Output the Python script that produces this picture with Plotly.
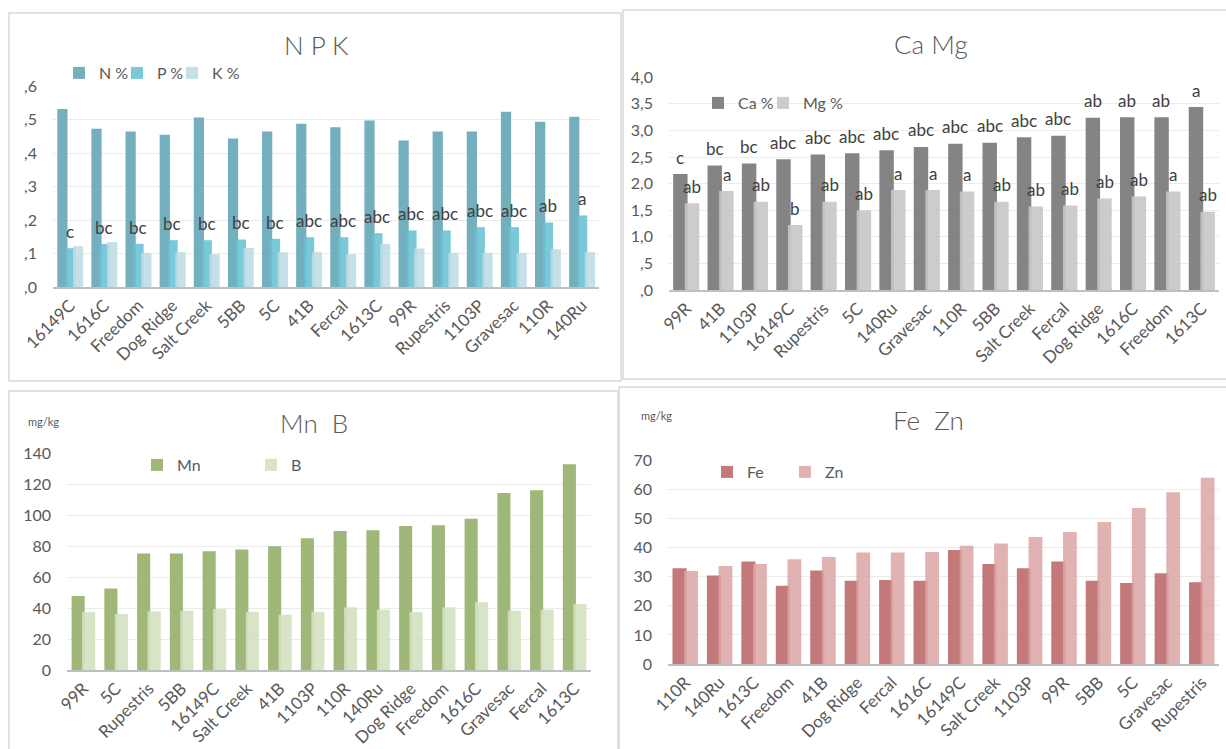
import plotly.graph_objects as go

W, H = 1226, 749

# ---------------- data ----------------
npk_cats = ["16149C", "1616C", "Freedom", "Dog Ridge", "Salt Creek", "5BB", "5C", "41B",
            "Fercal", "1613C", "99R", "Rupestris", "1103P", "Gravesac", "110R", "140Ru"]
n_vals = [0.532, 0.473, 0.465, 0.455, 0.507, 0.444, 0.465, 0.488,
          0.478, 0.498, 0.438, 0.465, 0.465, 0.524, 0.494, 0.509]
p_vals = [0.116, 0.129, 0.129, 0.140, 0.140, 0.142, 0.144, 0.149,
          0.149, 0.161, 0.169, 0.169, 0.179, 0.179, 0.193, 0.214]
k_vals = [0.122, 0.134, 0.102, 0.104, 0.098, 0.117, 0.104, 0.104,
          0.098, 0.129, 0.115, 0.102, 0.102, 0.102, 0.113, 0.104]
p_letters = ["c", "bc", "bc", "bc", "bc", "bc", "bc", "abc",
             "abc", "abc", "abc", "abc", "abc", "abc", "ab", "a"]
npk_tickvals = [0, 0.1, 0.2, 0.3, 0.4, 0.5, 0.6]
npk_ticktext = [",0", ",1", ",2", ",3", ",4", ",5", ",6"]

camg_cats = ["99R", "41B", "1103P", "16149C", "Rupestris", "5C", "140Ru", "Gravesac",
             "110R", "5BB", "Salt Creek", "Fercal", "Dog Ridge", "1616C", "Freedom", "1613C"]
ca_vals = [2.18, 2.34, 2.38, 2.46, 2.55, 2.57, 2.63, 2.69,
           2.75, 2.77, 2.87, 2.90, 3.24, 3.25, 3.25, 3.44]
mg_vals = [1.63, 1.86, 1.66, 1.22, 1.66, 1.50, 1.88, 1.88,
           1.85, 1.66, 1.57, 1.59, 1.72, 1.76, 1.85, 1.47]
ca_letters = ["c", "bc", "bc", "abc", "abc", "abc", "abc", "abc",
              "abc", "abc", "abc", "abc", "ab", "ab", "ab", "a"]
mg_letters = ["ab", "a", "ab", "b", "ab", "ab", "a", "a",
              "a", "ab", "ab", "ab", "ab", "ab", "a", "ab"]
camg_tickvals = [0, 0.5, 1.0, 1.5, 2.0, 2.5, 3.0, 3.5, 4.0]
camg_ticktext = [",0", ",5", "1,0", "1,5", "2,0", "2,5", "3,0", "3,5", "4,0"]

mnb_cats = ["99R", "5C", "Rupestris", "5BB", "16149C", "Salt Creek", "41B", "1103P",
            "110R", "140Ru", "Dog Ridge", "Freedom", "1616C", "Gravesac", "Fercal", "1613C"]
mn_vals = [47.8, 52.6, 75.2, 75.2, 76.7, 77.8, 79.9, 85.1,
           89.8, 90.3, 93.0, 93.5, 97.8, 114.4, 116.1, 132.9]
b_vals = [37.5, 36.2, 37.9, 38.3, 39.4, 37.5, 35.8, 37.5,
          40.5, 39.0, 37.5, 40.5, 43.7, 38.3, 39.0, 42.6]
mnb_tickvals = [0, 20, 40, 60, 80, 100, 120, 140]

fezn_cats = ["110R", "140Ru", "1613C", "Freedom", "41B", "Dog Ridge", "Fercal", "1616C",
             "16149C", "Salt Creek", "1103P", "99R", "5BB", "5C", "Gravesac", "Rupestris"]
fe_vals = [32.9, 30.4, 35.2, 26.9, 32.1, 28.6, 28.9, 28.6,
           39.2, 34.4, 32.9, 35.2, 28.6, 27.8, 31.2, 28.1]
zn_vals = [32.0, 33.7, 34.4, 36.0, 36.8, 38.3, 38.3, 38.5,
           40.6, 41.4, 43.6, 45.4, 48.8, 53.6, 59.0, 64.0]
fezn_tickvals = [0, 10, 20, 30, 40, 50, 60, 70]

# ---------------- styling ----------------
FONT = "Lato, 'Open Sans', sans-serif"
TXT = "#595959"
GRID = "#ECECEC"
AXLINE = "#BFBFBF"


def fx(px):
    return px / W


def fy(py):
    return 1 - py / H


fig = go.Figure()
legends = {}
leg_count = [0]


def add_bar(cats, vals, name, color, xa, ya, offset, width, leg_px):
    leg_count[0] += 1
    key = "legend" if leg_count[0] == 1 else "legend%d" % leg_count[0]
    legends[key] = dict(orientation="h", x=fx(leg_px[0] - 21), y=fy(leg_px[1]),
                        xanchor="left", yanchor="middle", bgcolor="rgba(0,0,0,0)",
                        borderwidth=0, font=dict(family=FONT, size=16, color=TXT),
                        itemclick=False, itemdoubleclick=False)
    fig.add_trace(go.Bar(
        x=cats, y=vals, name=name, marker=dict(color=color, line=dict(width=0)),
        offset=offset, width=width, xaxis=xa, yaxis=ya, legend=key,
        hoverinfo="x+y+name"))


# NPK
add_bar(npk_cats, n_vals, "N %", "rgba(104,168,184,0.92)", "x", "y", -0.375, 0.30, (80, 73))
add_bar(npk_cats, p_vals, "P %", "rgba(105,192,212,0.88)", "x", "y", -0.145, 0.30, (138, 73))
add_bar(npk_cats, k_vals, "K %", "rgba(190,220,229,0.88)", "x", "y", 0.085, 0.30, (193, 73))
# Ca Mg
add_bar(camg_cats, ca_vals, "Ca %", "rgba(125,125,125,0.95)", "x2", "y2", -0.38, 0.42, (719, 103))
add_bar(camg_cats, mg_vals, "Mg %", "rgba(198,198,198,0.9)", "x2", "y2", -0.04, 0.42, (784, 103))
# Mn B
add_bar(mnb_cats, mn_vals, "Mn", "rgba(154,179,114,0.95)", "x3", "y3", -0.36, 0.40, (158, 465))
add_bar(mnb_cats, b_vals, "B", "rgba(212,225,192,0.9)", "x3", "y3", -0.04, 0.40, (272, 465))
# Fe Zn
add_bar(fezn_cats, fe_vals, "Fe", "rgba(190,110,110,0.92)", "x4", "y4", -0.37, 0.41, (728, 472))
add_bar(fezn_cats, zn_vals, "Zn", "rgba(220,164,164,0.85)", "x4", "y4", -0.03, 0.40, (806, 472))

annotations = []
LETTER_FONT = dict(family=FONT, size=17, color="#404040")
# letters NPK (over P bars)
for c, v, t in zip(npk_cats, p_vals, p_letters):
    annotations.append(dict(x=c, y=v + 0.05, xref="x", yref="y", text=t, showarrow=False,
                            font=LETTER_FONT, yanchor="middle"))
# letters Ca / Mg
for c, v, t in zip(camg_cats, ca_vals, ca_letters):
    annotations.append(dict(x=c, y=v + 0.32, xref="x2", yref="y2", text=t, showarrow=False,
                            xshift=-6, font=LETTER_FONT, yanchor="middle"))
for c, v, t in zip(camg_cats, mg_vals, mg_letters):
    annotations.append(dict(x=c, y=v + 0.32, xref="x2", yref="y2", text=t, showarrow=False,
                            xshift=6, font=LETTER_FONT, yanchor="middle"))

# titles and units
titles = [("N P K", 316, 45), ("Ca Mg", 931, 44), ("Mn  B", 314, 423), ("Fe  Zn", 928, 420)]
for t, x, y in titles:
    annotations.append(dict(x=fx(x), y=fy(y), xref="paper", yref="paper", text=t, showarrow=False,
                            xanchor="center", yanchor="middle",
                            font=dict(family=FONT, size=26, color=TXT, weight=300)))
for x, y in [(44, 421), (656, 415)]:
    annotations.append(dict(x=fx(x), y=fy(y), xref="paper", yref="paper", text="mg/kg",
                            showarrow=False, xanchor="center", yanchor="middle",
                            font=dict(family=FONT, size=11, color=TXT)))

# panel borders
shapes = []
for x0, y0, x1, y1 in [(9, 13, 621, 381), (623, 10, 1232, 379), (9, 391, 618, 760), (619, 387, 1232, 760)]:
    shapes.append(dict(type="rect", xref="paper", yref="paper", x0=fx(x0), x1=fx(x1),
                       y0=fy(y1), y1=fy(y0), line=dict(color="#D9D9D9", width=1.5),
                       fillcolor="rgba(0,0,0,0)", layer="below"))


def xaxis_cfg(domain, anchor):
    return dict(domain=domain, anchor=anchor, type="category", tickangle=-45,
                showline=True, linecolor=AXLINE, linewidth=2, ticks="", showgrid=False,
                automargin=False,
                tickfont=dict(family=FONT, size=17, color=TXT), fixedrange=True)


def yaxis_cfg(domain, anchor, rng, tv, tt=None):
    d = dict(domain=domain, anchor=anchor, range=rng, tickvals=tv, showgrid=True,
             gridcolor=GRID, gridwidth=1, zeroline=False, showline=False, ticks="",
             automargin=False,
             ticklabelstandoff=15, tickfont=dict(family=FONT, size=16, color=TXT),
             fixedrange=True)
    if tt is not None:
        d["ticktext"] = tt
    return d


fig.update_layout(
    width=W, height=H, margin=dict(l=0, r=0, t=0, b=0, pad=0, autoexpand=False),
    paper_bgcolor="white", plot_bgcolor="white",
    barmode="overlay", showlegend=True,
    font=dict(family=FONT, color=TXT),
    xaxis=xaxis_cfg([fx(53), fx(599)], "y"),
    yaxis=yaxis_cfg([fy(287), fy(86)], "x", [0, 0.601], npk_tickvals, npk_ticktext),
    xaxis2=xaxis_cfg([fx(669), fx(1219)], "y2"),
    yaxis2=yaxis_cfg([fy(290), fy(77)], "x2", [0, 4.005], camg_tickvals, camg_ticktext),
    xaxis3=xaxis_cfg([fx(67), fx(591)], "y3"),
    yaxis3=yaxis_cfg([fy(670), fy(453)], "x3", [0, 140.2], mnb_tickvals),
    xaxis4=xaxis_cfg([fx(668), fx(1219)], "y4"),
    yaxis4=yaxis_cfg([fy(664), fy(460)], "x4", [0, 70.1], fezn_tickvals),
    annotations=annotations, shapes=shapes,
    **legends,
)

fig.write_html(
    "out.html",
    config={"displayModeBar": False},
    post_script="document.body.style.margin='0';document.body.style.padding='0';"
                "document.body.style.overflow='hidden';",
)
